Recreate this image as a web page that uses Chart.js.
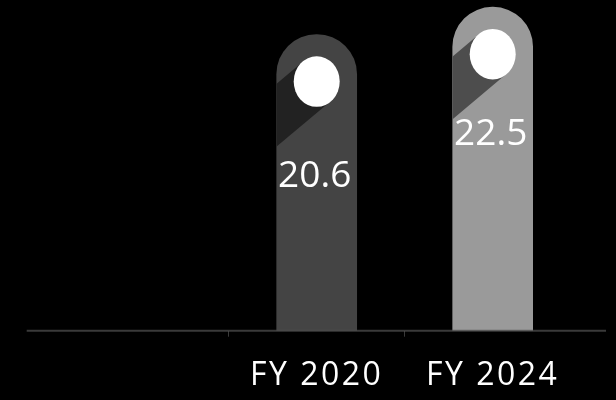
<!DOCTYPE html>
<html>
<head>
<meta charset="utf-8">
<script src="https://cdn.jsdelivr.net/npm/chart.js@4/dist/chart.umd.min.js"></script>
<style>
  html, body { margin: 0; padding: 0; background: #000; }
  #wrap { width: 616px; height: 400px; }
</style>
</head>
<body>
<div id="wrap"><canvas id="c" width="616" height="400"></canvas></div>
<script>
// Revenue by fiscal year (the first slot is intentionally left empty)
const categories = ['', 'FY 2020', 'FY 2024'];
const revenue = [null, 20.6, 22.5];

// Pin styling
const barColors = ['#444444', '#444444', '#9a9a9a'];
const shadowColors = ['#222222', '#222222', '#4d4d4d'];
const labelDrop = [0, 152, 138];   // baseline of value text, px below the bar top
const FONT = '"Open Sans", "Noto Sans", sans-serif';

// Baseline drawn over the bars, slightly wider than the plot area
const baselinePlugin = {
  id: 'baseline',
  beforeDraw(chart) { chart.ctx.letterSpacing = '2.5px'; },
  beforeDatasetsDraw(chart) { chart.ctx.letterSpacing = '0px'; },
  afterDatasetsDraw(chart) {
    const { ctx, chartArea, scales } = chart;
    const y0 = scales.y.getPixelForValue(0);
    ctx.save();
    ctx.strokeStyle = 'rgba(82,82,82,0.71)';
    ctx.lineWidth = 2;
    ctx.beginPath();
    ctx.moveTo(chartArea.left - 26, y0);
    ctx.lineTo(chartArea.right + 25.3, y0);
    ctx.stroke();
    ctx.restore();
  }
};

// Long shadow, white dot and value text on each bar
const pinPlugin = {
  id: 'pins',
  afterDatasetsDraw(chart) {
    const { ctx } = chart;
    const meta = chart.getDatasetMeta(0);
    meta.data.forEach((bar, i) => {
      if (revenue[i] == null) return;
      const p = bar.getProps(['x', 'y', 'base', 'width'], true);
      const left = p.x - p.width / 2, right = p.x + p.width / 2;
      const r = p.width / 2;
      const cx = p.x, cy = p.y + 47;

      ctx.save();
      // clip to the bar outline (rounded top)
      ctx.beginPath();
      ctx.moveTo(left, p.base);
      ctx.lineTo(left, p.y + r);
      ctx.arc(p.x, p.y + r, r, Math.PI, 0);
      ctx.lineTo(right, p.base);
      ctx.closePath();
      ctx.clip();

      // shadow band swept down-left from the dot
      const th = 40 * Math.PI / 180;
      const d = { x: -Math.cos(th), y: Math.sin(th) };
      const n = { x: Math.sin(th), y: Math.cos(th) };
      const rr = 24, L = 400;
      const p1 = { x: cx + rr * n.x, y: cy + rr * n.y };
      const p2 = { x: cx - rr * n.x, y: cy - rr * n.y };
      ctx.fillStyle = shadowColors[i];
      ctx.beginPath();
      ctx.moveTo(p1.x, p1.y);
      ctx.lineTo(p2.x, p2.y);
      ctx.lineTo(p2.x + L * d.x, p2.y + L * d.y);
      ctx.lineTo(p1.x + L * d.x, p1.y + L * d.y);
      ctx.closePath();
      ctx.fill();
      ctx.restore();

      // white dot
      ctx.save();
      ctx.fillStyle = '#ffffff';
      ctx.beginPath();
      ctx.ellipse(cx, cy, 23, 25.3, 0, 0, Math.PI * 2);
      ctx.fill();

      // value text
      ctx.fillStyle = '#ffffff';
      ctx.font = '37px ' + FONT;
      ctx.textAlign = 'center';
      ctx.textBaseline = 'alphabetic';
      ctx.fillText(revenue[i].toFixed(1), cx - 2, p.y + labelDrop[i]);
      ctx.restore();
    });
  }
};

new Chart(document.getElementById('c'), {
  type: 'bar',
  data: {
    labels: categories,
    datasets: [{
      data: revenue,
      backgroundColor: barColors,
      borderWidth: 0,
      borderRadius: 40,
      barThickness: 80
    }]
  },
  options: {
    responsive: false,
    animation: false,
    layout: { padding: { left: 52.7, right: 35.3, top: 0, bottom: 0 } },
    plugins: { legend: { display: false }, tooltip: { enabled: false } },
    scales: {
      x: {
        offset: true,
        border: { display: false },
        grid: {
          offset: true,
          drawOnChartArea: false,
          drawTicks: true,
          tickLength: 6,
          lineWidth: 1,
          color: (c) => (c.type !== 'tick' || c.index === 0) ? 'rgba(0,0,0,0)' : '#3a3a3a'
        },
        ticks: {
          color: '#ffffff',
          padding: 20,
          font: { family: FONT, size: 32 }
        },
        afterFit(scale) { scale.height = 69.3; }
      },
      y: {
        display: false,
        min: 0,
        max: 23
      }
    }
  },
  plugins: [baselinePlugin, pinPlugin]
});
</script>
</body>
</html>
